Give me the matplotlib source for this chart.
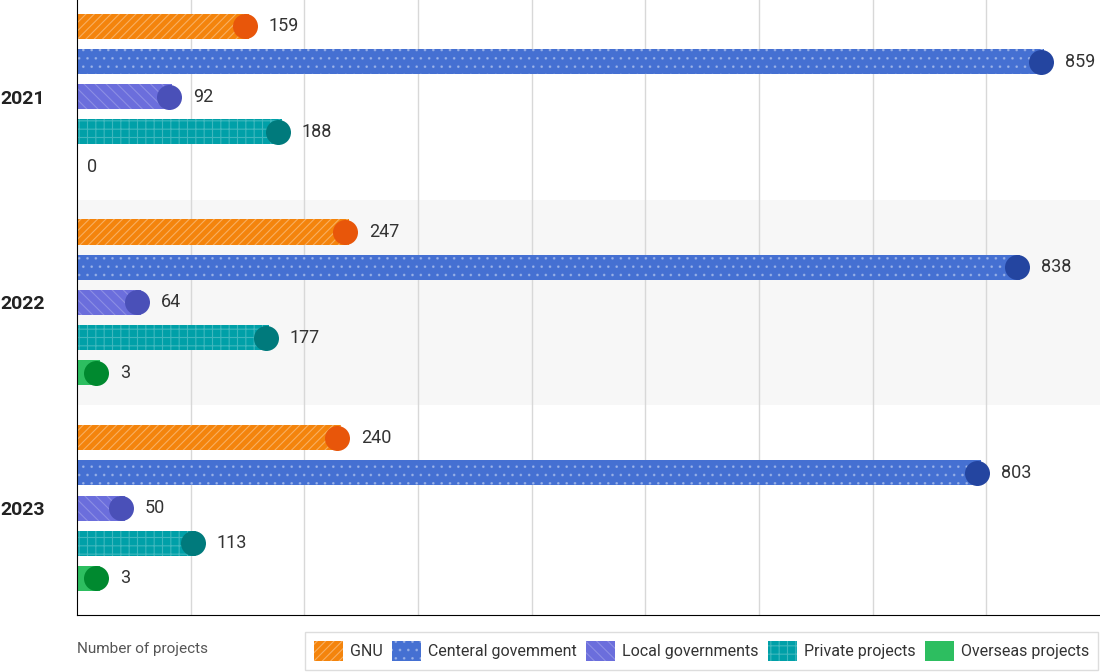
import numpy as np
import matplotlib.pyplot as plt
from matplotlib.patches import Patch
from matplotlib.transforms import ScaledTranslation

plt.rcParams['font.family'] = ['Roboto', 'DejaVu Sans']
plt.rcParams['hatch.linewidth'] = 0.8

# data
years = ['2021', '2022', '2023']
categories = ['GNU', 'Centeral govemment', 'Local governments', 'Private projects', 'Overseas projects']
gnu = [159, 247, 240]
central = [859, 838, 803]
local = [92, 64, 50]
private = [188, 177, 113]
overseas = [0, 3, 3]
series = [gnu, central, local, private, overseas]

bar_colors = ['#F4840C', '#4570D2', '#6B6EDC', '#00A0A8', '#2DBE60']
cap_colors = ['#E8560A', '#2445A0', '#4A50B8', '#007A7C', '#00892F']
hatches = ['////', '..', '\\\\\\', '++', '']
hatch_cols = [(1, 1, 1, 0.35), (1, 1, 1, 0.3), (1, 1, 1, 0.22), (1, 1, 1, 0.25), (1, 1, 1, 0)]

fig = plt.figure(figsize=(11, 6.72), dpi=100)
ax = fig.add_axes([0.07, 0.0848, 0.93, 0.9152])

row_step = 0.171
bar_h = 0.122
min_len = 28  # shortest drawn bar so the round cap stays visible

# round cap sits inside the bar end
cap_shift = ScaledTranslation(-0.125, 0, fig.dpi_scale_trans)

# band behind the middle year
ax.axhspan(0.5, 1.5, color='#F7F7F7', zorder=0, lw=0)

for i in range(len(categories)):
    vals = np.array(series[i])
    ys = np.arange(len(years)) + (i - 2) * row_step
    shown = np.where(vals > 0, np.maximum(vals, min_len), 0)
    ax.barh(ys, shown - 8, height=bar_h, color=bar_colors[i], hatch=hatches[i],
            edgecolor=hatch_cols[i], linewidth=0, zorder=2)
    for y, v, s in zip(ys, vals, shown):
        if v == 0:
            ax.annotate(str(v), (0, y), xytext=(7, 0), textcoords='offset points',
                        va='center', ha='left', fontsize=13, color='#333333')
            continue
        ax.plot(s, y, 'o', ms=18, color=cap_colors[i], mew=0, zorder=3,
                transform=ax.transData + cap_shift)
        ax.annotate(str(v), (s, y), xytext=(8, 0), textcoords='offset points',
                    va='center', ha='left', fontsize=13, color='#333333')

ax.set_xlim(0, 900)
ax.set_ylim(2.52, -0.47)
ax.set_xticks(np.arange(100, 900, 100))
ax.grid(axis='x', color='#D8D8D8', lw=1, zorder=1)
ax.tick_params(axis='x', length=0, labelbottom=False)
ax.set_yticks(range(len(years)))
ax.set_yticklabels(years, fontsize=14, fontweight='bold', color='#222222')
ax.tick_params(axis='y', length=0, pad=23)
ax.spines['top'].set_visible(False)
ax.spines['right'].set_visible(False)
ax.spines['left'].set_color('black')
ax.spines['bottom'].set_color('black')

fig.text(0.07, 0.034, 'Number of projects', fontsize=11, color='#555555', va='center')

handles = [Patch(facecolor=bar_colors[i], hatch=hatches[i], edgecolor=hatch_cols[i], lw=0)
           for i in range(len(categories))]
leg = fig.legend(handles, categories, loc='lower right', bbox_to_anchor=(0.998, 0.003),
                 ncol=5, fontsize=11.5, frameon=True, fancybox=False, framealpha=1,
                 edgecolor='#DDDDDD', handlelength=1.8, handleheight=1.56,
                 handletextpad=0.44, columnspacing=0.6, borderpad=0.55,
                 borderaxespad=0)
for t in leg.get_texts():
    t.set_color('#333333')

fig.savefig('out.png', dpi=100)
